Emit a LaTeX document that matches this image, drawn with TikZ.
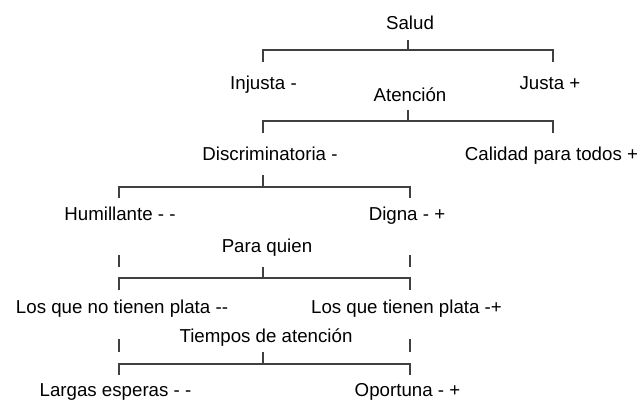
\documentclass[tikz,border=0pt]{standalone}
\usepackage{fontspec}
\setmainfont{Liberation Sans}
\begin{document}
\begin{tikzpicture}[x=1pt,y=-1pt,
  lbl/.style={inner sep=0pt,anchor=base,font=\fontsize{18.7}{22}\selectfont},
  br/.style={draw=black!75,line width=1.2pt}]
\useasboundingbox (0,0) rectangle (641,400);
% labels
\node[lbl] (salud) at (410,29.5) {Salud};
\node[lbl] (injusta) at (263.5,89) {Injusta -};
\node[lbl] (justa) at (550,89) {Justa +};
\node[lbl] (atencion) at (410,101) {Atención};
\node[lbl] (discr) at (270,160) {Discriminatoria -};
\node[lbl] (calidad) at (551.5,160) {Calidad para todos +};
\node[lbl] (humill) at (120,220) {Humillante - -};
\node[lbl] (digna) at (407,220) {Digna - +};
\node[lbl] (paraquien) at (267,252) {Para quien};
\node[lbl] (noplata) at (122,313) {Los que no tienen plata -{}-};
\node[lbl] (plata) at (406.5,313) {Los que tienen plata -+};
\node[lbl] (tiempos) at (266,342) {Tiempos de atención};
\node[lbl] (largas) at (115.5,396) {Largas esperas - -};
\node[lbl] (oportuna) at (407.5,396) {Oportuna - +};
% bracket coordinates
\coordinate (s1) at (408,40); \coordinate (b1) at (408,50);
\coordinate (l1) at (263,62); \coordinate (r1) at (553,62);
\coordinate (s2) at (408,110); \coordinate (b2) at (408,121);
\coordinate (l2) at (263,133); \coordinate (r2) at (553,133);
\coordinate (s3) at (263,175); \coordinate (b3) at (263,187);
\coordinate (l3) at (119,198); \coordinate (r3) at (410,198);
\coordinate (s4) at (263,267); \coordinate (b4) at (263,278);
\coordinate (l4) at (119,290); \coordinate (r4) at (410,290);
\coordinate (s5) at (263,352); \coordinate (b5) at (263,364);
\coordinate (l5) at (119,375); \coordinate (r5) at (410,375);
% brackets
\foreach \i in {1,...,5}{
  \draw[br] (s\i) -- (b\i);
  \draw[br] (l\i) |- (b\i) -| (r\i);
}
% ticks
\coordinate (t4a) at (119,255); \coordinate (t4b) at (119,267);
\coordinate (t4c) at (410,255); \coordinate (t4d) at (410,267);
\coordinate (t5a) at (119,339); \coordinate (t5b) at (119,352);
\coordinate (t5c) at (410,339); \coordinate (t5d) at (410,352);
\draw[br] (t4a) -- (t4b);
\draw[br] (t4c) -- (t4d);
\draw[br] (t5a) -- (t5b);
\draw[br] (t5c) -- (t5d);
\end{tikzpicture}
\end{document}
